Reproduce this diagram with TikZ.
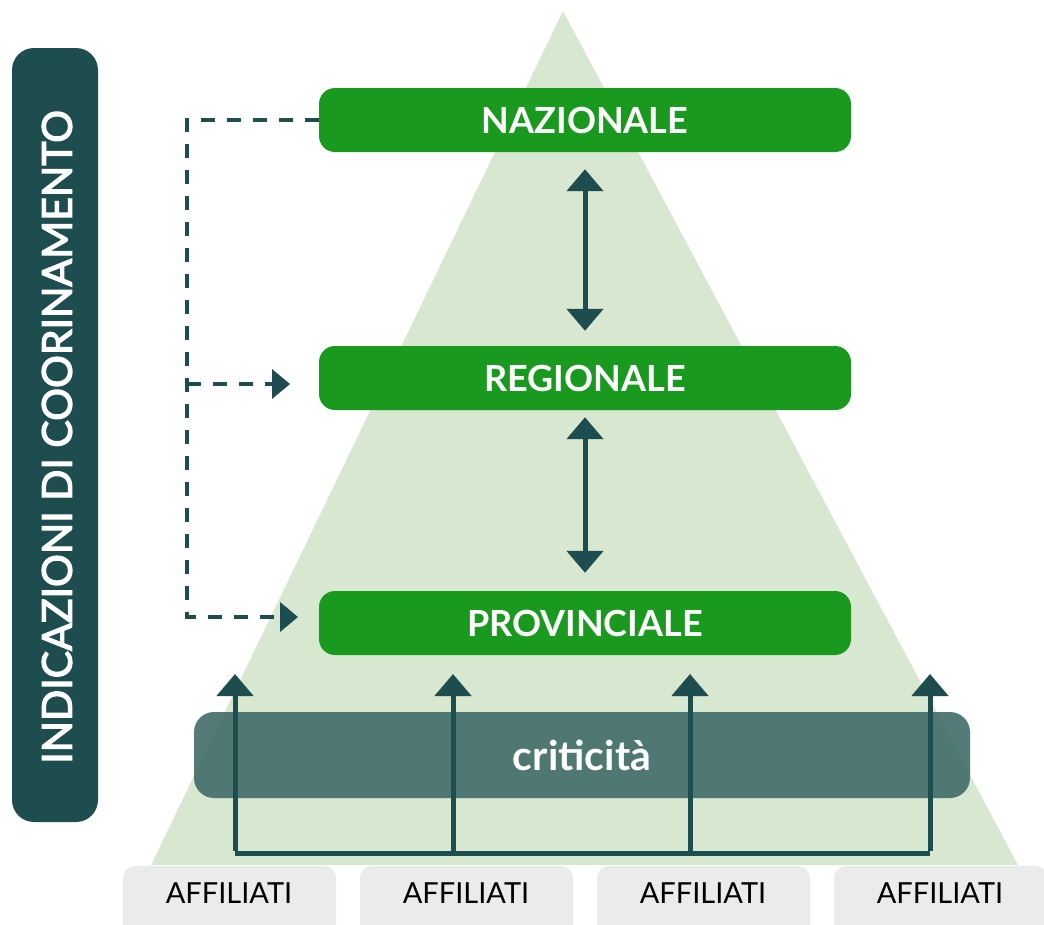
\documentclass[tikz,border=0pt]{standalone}
\usepackage{fontspec}
\setmainfont{Lato}
\newfontfamily\semifont{Lato}[FakeBold=3]
\usetikzlibrary{arrows.meta}
\definecolor{tri}{RGB}{216,231,208}
\definecolor{lev}{RGB}{26,153,31}
\definecolor{teal}{RGB}{30,77,79}
\definecolor{crit}{RGB}{60,105,100}
\definecolor{aff}{RGB}{235,235,235}
\tikzset{
  level/.style={fill=lev, rounded corners=16pt, minimum width=532pt, minimum height=64pt, inner sep=0pt, text=white, font=\fontsize{36}{36}\selectfont\bfseries},
  affbox/.style={fill=aff, rounded corners=12pt, minimum width=213pt, minimum height=80pt, inner sep=0pt},
  afftext/.style={font=\fontsize{29}{29}\selectfont, text=black},
  dashline/.style={draw=teal, line width=4.5pt, dash pattern=on 14pt off 12pt},
  dbl/.style={draw=teal, line width=5pt, {Triangle[width=36pt,length=22pt]}-{Triangle[width=36pt,length=22pt]}},
  up/.style={draw=teal, line width=5pt, -{Triangle[width=36pt,length=22pt]}},
}
\begin{document}
\begin{tikzpicture}[x=1pt,y=-1pt]
\useasboundingbox (0,0) rectangle (1044,924);
% triangle
\fill[tri] (563,11) -- (1018,865) -- (151,865) -- cycle;
% left vertical box
\node[fill=teal, rounded corners=22pt, minimum width=86pt, minimum height=774pt, inner sep=0pt] (side) at (55,435) {};
\node[rotate=90, text=white, font=\semifont\fontsize{41}{41}\selectfont] (sidetext) at (57,437) {INDICAZIONI DI COORINAMENTO};
% levels
\node[level] (naz) at (585,120) {NAZIONALE};
\node[level] (reg) at (585,378) {REGIONALE};
\node[level] (prov) at (585,623) {PROVINCIALE};
% double arrows
\draw[dbl] ([yshift=-17pt]naz.south) -- ([yshift=15pt]reg.north);
\draw[dbl] ([yshift=-7pt]reg.south) -- ([yshift=18pt]prov.north);
% dashed connectors
\coordinate (c1) at (187,120);
\coordinate (c2) at (187,384);
\coordinate (c3) at (187,617);
\coordinate (t2) at (290,384);
\coordinate (t3) at (298,617);
\draw[dashline] (naz.west) -- (c1) -- (c3) -- ([xshift=-18pt]t3);
\draw[dashline] (c2) -- ([xshift=-18pt]t2);
\fill[teal] (t2) -- ++(-18,-15) -- ++(0,30) -- cycle;
\fill[teal] (t3) -- ++(-18,-15) -- ++(0,30) -- cycle;
% criticita
\node[fill=crit, fill opacity=0.88, text opacity=1, rounded corners=20pt, minimum width=776pt, minimum height=86pt, inner sep=0pt, text=white, font=\fontsize{41}{41}\selectfont\bfseries] (crit) at (582,755) {criticità};
% affiliati
\node[affbox] (a1) at (229.5,906) {};
\node[affbox] (a2) at (466.5,906) {};
\node[affbox] (a3) at (703.5,906) {};
\node[affbox] (a4) at (940.5,906) {};
\node[afftext] (t1) at (229,893) {AFFILIATI};
\node[afftext] (tt2) at (466,893) {AFFILIATI};
\node[afftext] (tt3) at (703,893) {AFFILIATI};
\node[afftext] (tt4) at (940,893) {AFFILIATI};
% up arrows
\coordinate (b1) at (235,853);
\coordinate (b2) at (453,853);
\coordinate (b3) at (690,853);
\coordinate (b4) at (930,853);
\draw[teal, line width=5pt] (b1) -- (b4);
\draw[up] ([yshift=2.5pt]b1) -- (235,674);
\draw[up] ([yshift=2.5pt]b2) -- (453,674);
\draw[up] ([yshift=2.5pt]b3) -- (690,674);
\draw[up] ([yshift=2.5pt]b4) -- (930,674);
\end{tikzpicture}
\end{document}
